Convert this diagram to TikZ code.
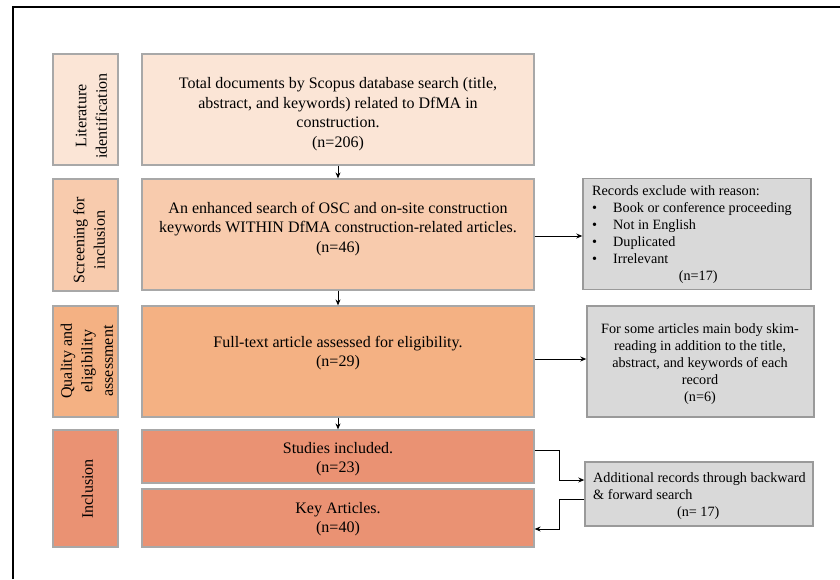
\documentclass[tikz,border=0pt]{standalone}
\usepackage{fontspec}
\setmainfont{Liberation Serif}
\usetikzlibrary{arrows.meta}

\definecolor{stA}{HTML}{FBE5D6}
\definecolor{stB}{HTML}{F8CBAD}
\definecolor{stC}{HTML}{F4B183}
\definecolor{stD}{HTML}{EA9273}
\definecolor{boxline}{HTML}{A8A8A8}
\definecolor{noteFill}{HTML}{D9D9D9}
\definecolor{noteLine}{HTML}{9A9A9A}

\tikzset{
  panel/.style={draw=boxline, line width=1.2pt, inner sep=0pt},
  note/.style={draw=noteLine, fill=noteFill, line width=1.4pt, inner sep=0pt},
  maintext/.style={inner sep=0pt, align=center, font=\fontsize{16}{19.5}\selectfont},
  stagetext/.style={inner sep=0pt, align=center, rotate=90, font=\fontsize{16}{20.5}\selectfont},
  notetext/.style={inner sep=0pt, font=\fontsize{14.2}{17}\selectfont},
  arr/.style={line width=1pt, -{Stealth[length=6pt,width=5pt]}},
  link/.style={line width=1pt}
}

\begin{document}
\begin{tikzpicture}[x=1pt, y=-1pt]
\useasboundingbox (0,0) rectangle (840,579);

% outer frame (left and top edges)
\draw[line width=2.5pt] (13,579) -- (13,7) -- (840,7);

% stage column
\node[panel, fill=stA, minimum width=65pt, minimum height=111pt] (s1) at (85.5,109.5) {};
\node[panel, fill=stB, minimum width=65pt, minimum height=112pt] (s2) at (85.5,235) {};
\node[panel, fill=stC, minimum width=65pt, minimum height=111pt] (s3) at (85.5,361.5) {};
\node[panel, fill=stD, minimum width=65pt, minimum height=117pt] (s4) at (85.5,488.5) {};

\node[stagetext] (l1) at (91.5,116) {Literature\\identification};
\node[stagetext] (l2) at (89,240) {Screening for\\inclusion};
\node[stagetext] (l3) at (87,361) {Quality and\\eligibility\\assessment};
\node[stagetext] (l4) at (87.5,489) {Inclusion};

% main column
\node[panel, fill=stA, minimum width=392pt, minimum height=111pt] (b1) at (338,109.5) {};
\node[panel, fill=stB, minimum width=392pt, minimum height=111pt] (b2) at (338,234.5) {};
\node[panel, fill=stC, minimum width=392pt, minimum height=111pt] (b3) at (338,361.5) {};
\node[panel, fill=stD, minimum width=392pt, minimum height=53pt] (b4) at (338,456.5) {};
\node[panel, fill=stD, minimum width=392pt, minimum height=58pt] (b5) at (338,518) {};

\node[maintext] (t1) at (338,114) {Total documents by Scopus database search (title,\\abstract, and keywords) related to DfMA in\\construction.\\(n=206)};
\node[maintext] (t2) at (338,229) {An enhanced search of OSC and on-site construction\\keywords WITHIN DfMA construction-related articles.\\(n=46)};
\node[maintext] (t3) at (338,353) {Full-text article assessed for eligibility.\\(n=29)};
\node[maintext] (t4) at (338,459) {Studies included.\\(n=23)};
\node[maintext] (t5) at (338,519) {Key Articles.\\(n=40)};

% side notes
\node[note, minimum width=228pt, minimum height=111pt] (r1) at (697,234) {};
\node[note, minimum width=227pt, minimum height=111pt] (r2) at (700.5,361.5) {};
\node[note, minimum width=228pt, minimum height=64pt] (r3) at (699,494) {};

\node[notetext, anchor=west, align=left] (n1) at (592,234.5)
  {Records exclude with reason:\\
   \makebox[21pt][l]{\textbullet}Book or conference proceeding\\
   \makebox[21pt][l]{\textbullet}Not in English\\
   \makebox[21pt][l]{\textbullet}Duplicated\\
   \makebox[21pt][l]{\textbullet}Irrelevant\\
   \makebox[212pt]{(n=17)}};
\node[notetext, align=center] (n2) at (700,364)
  {For some articles main body skim-\\reading in addition to the title,\\abstract, and keywords of each\\record\\(n=6)};
\node[notetext, anchor=west, align=left] (n3) at (593,496)
  {Additional records through backward\\
   \& forward search\\
   \makebox[210pt]{(n= 17)}};

% connectors
\draw[arr] (b1.south) -- (b2.north);
\draw[arr] (b2.south) -- (b3.north);
\draw[arr] (b3.south) -- (b4.north);
\draw[arr] (b2.east |- 0,236) -- (r1.west |- 0,236);
\draw[arr] (b3.east |- 0,359) -- (r2.west |- 0,359);
\draw[arr] (b4.east |- 0,450) -- (559,450) |- (r3.west |- 0,480);
\draw[arr] (r3.west |- 0,499) -- (559,499) |- (b5.east |- 0,529);
\end{tikzpicture}
\end{document}
